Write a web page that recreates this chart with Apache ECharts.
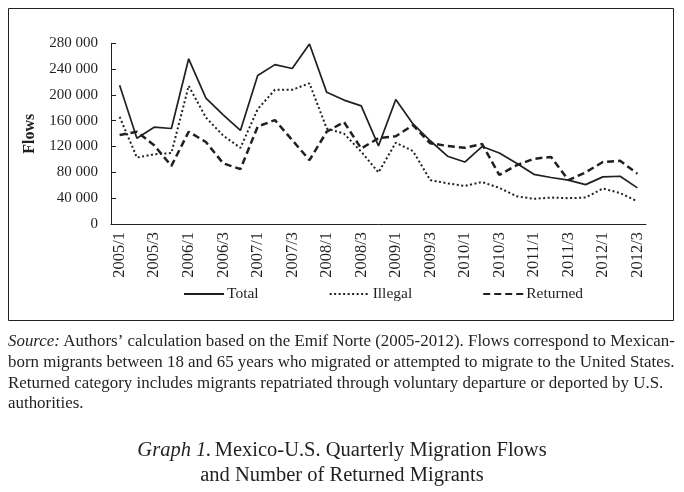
<!DOCTYPE html>
<html>
<head>
<meta charset="utf-8">
<script src="https://cdn.jsdelivr.net/npm/echarts@6/dist/echarts.min.js"></script>
<style>
html,body{margin:0;padding:0;background:#fff;}
#c{width:684px;height:492px;}
</style>
</head>
<body>
<div id="c"></div>
<script>
const categories = ["2005/1","2005/2","2005/3","2005/4","2006/1","2006/2","2006/3","2006/4","2007/1","2007/2","2007/3","2007/4","2008/1","2008/2","2008/3","2008/4","2009/1","2009/2","2009/3","2009/4","2010/1","2010/2","2010/3","2010/4","2011/1","2011/2","2011/3","2011/4","2012/1","2012/2","2012/3"];
const total = [215000,133000,150000,148000,256000,195000,169000,145000,230000,247000,241000,279000,204000,192000,183000,121000,193000,155000,129000,105000,96000,120000,110000,94000,77000,72000,68000,61000,73000,74000,56000];
const illegal = [166000,103000,108000,110000,214000,165000,137000,118000,178000,208000,208000,218000,148000,140000,112000,80000,126000,113000,68000,63000,59000,65000,56000,43000,39000,41000,40000,41000,55000,48000,35000];
const returned = [138000,143000,122000,90000,143000,127000,94000,85000,151000,161000,130000,99000,143000,158000,117000,133000,136000,153000,125000,121000,118000,124000,76000,91000,101000,104000,68000,80000,96000,98000,78000];
const seriesNames = ["Total","Illegal","Returned"];
const yTicks = {min:0, max:280000, interval:40000};
const sourceLines = [
  "Authors\u2019 calculation based on the Emif Norte (2005-2012). Flows correspond to Mexican-",
  "born migrants between 18 and 65 years who migrated or attempted to migrate to the United States.",
  "Returned category includes migrants repatriated through voluntary departure or deported by U.S.",
  "authorities."
];
const captionLines = ["Mexico-U.S. Quarterly Migration Flows","and Number of Returned Migrants"];

const FONT = "Liberation Serif";
const INK = "#231f20";
const SRC = 16.9;
const chart = echarts.init(document.getElementById('c'), null, {renderer:'canvas'});

const graphics = [
  {type:'rect', shape:{x:8.5,y:8.5,width:665,height:312}, style:{fill:'none',stroke:INK,lineWidth:1}, silent:true},
  {type:'text', left:8, top:333, style:{rich:{i:{fontStyle:'italic',fontFamily:FONT,fontSize:SRC,fill:INK},n:{fontFamily:FONT,fontSize:SRC,fill:INK}}, text:'{i|Source:} {n|'+sourceLines[0]+'}', fill:INK}},
];
for (let k=1;k<sourceLines.length;k++){
  graphics.push({type:'text', left:8, top:333+k*20.8, style:{text:sourceLines[k], fontFamily:FONT, fontSize:SRC, fill:INK}});
}
graphics.push({type:'text', left:'center', top:440, style:{rich:{i:{fontStyle:'italic',fontFamily:FONT,fontSize:20.5,fill:INK},n:{fontFamily:FONT,fontSize:20.5,fill:INK}}, text:'{i|Graph 1.} {n|'+captionLines[0]+'}'}});
graphics.push({type:'text', left:'center', top:465, style:{text:captionLines[1], fontFamily:FONT, fontSize:20.5, fill:INK}});

const option = {
  animation:false,
  backgroundColor:'#fff',
  textStyle:{fontFamily:FONT, color:INK},
  grid:{left:111, right:38, top:43.3, bottom:268, containLabel:false},
  legend:{
    data:seriesNames, left:178, top:281, itemWidth:40, itemHeight:14, itemGap:70,
    itemStyle:{opacity:0},
    textStyle:{fontFamily:FONT, fontSize:15.5, color:INK, padding:[0,0,0,-2]}
  },
  xAxis:{
    type:'category', data:categories, boundaryGap:true,
    axisLine:{lineStyle:{color:INK,width:1}},
    axisTick:{inside:true, length:5, interval:0, lineStyle:{color:INK}},
    axisLabel:{rotate:90, interval:1, fontFamily:FONT, fontSize:16.5, color:INK, margin:8}
  },
  yAxis:{
    type:'value', min:yTicks.min, max:yTicks.max, interval:yTicks.interval,
    name:'Flows', nameLocation:'middle', nameGap:66, nameRotate:90,
    nameTextStyle:{fontFamily:FONT, fontSize:16, fontWeight:'bold', color:INK},
    axisLine:{show:true, lineStyle:{color:INK,width:1}},
    axisTick:{show:true, inside:true, length:5, lineStyle:{color:INK}},
    splitLine:{show:false},
    axisLabel:{fontFamily:FONT, fontSize:15, color:INK, margin:13,
      formatter:v=>String(v).replace(/\B(?=(\d{3})+(?!\d))/g,' ')}
  },
  series:[
    {name:seriesNames[0], type:'line', data:total, symbol:'none', lineStyle:{color:INK,width:1.7,type:'solid'}, itemStyle:{color:INK}},
    {name:seriesNames[1], type:'line', data:illegal, symbol:'none', lineStyle:{color:INK,width:2,type:[2,2.5]}, itemStyle:{color:INK}},
    {name:seriesNames[2], type:'line', data:returned, symbol:'none', lineStyle:{color:INK,width:2.5,type:[7,4]}, itemStyle:{color:INK}}
  ],
  graphic:graphics
};
chart.setOption(option);
</script>
</body>
</html>
